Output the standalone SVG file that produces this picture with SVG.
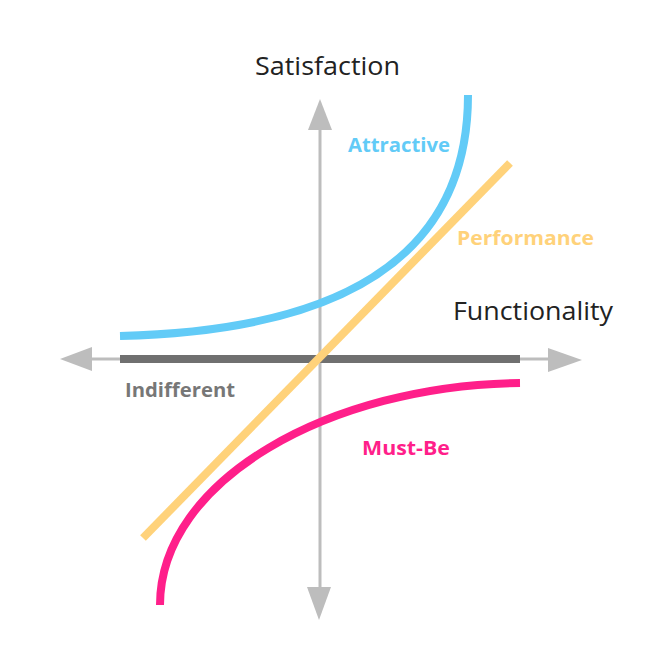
<svg xmlns="http://www.w3.org/2000/svg" width="655" height="655" viewBox="0 0 655 655">
<style>
.axis{stroke:#bdbdbd;stroke-width:3;fill:none}
.head{fill:#bdbdbd}
.curve{fill:none;stroke-width:8;stroke-linecap:butt}
.lbl{font-family:"Open Sans","Liberation Sans",sans-serif;font-weight:bold;font-size:19px}
.ax{font-family:"Open Sans","Liberation Sans",sans-serif;font-size:25px;fill:#222}
</style>
<rect width="655" height="655" fill="#fff"/>
<g id="connectors">
<line class="axis" x1="320" y1="128" x2="320" y2="590"/>
<polygon class="head" points="320,99 308,130 332,130"/>
<polygon class="head" points="319,620 307,587 331,587"/>
<line class="axis" x1="90" y1="359" x2="550" y2="359"/>
<polygon class="head" points="60,359 92,347 92,371"/>
<polygon class="head" points="582,360 548,348 548,372"/>
</g>
<g id="indifferent">
<line x1="120" y1="359" x2="520" y2="359" stroke="#707070" stroke-width="8"/>
<text class="lbl" x="125" y="397" fill="#777" textLength="110" lengthAdjust="spacingAndGlyphs">Indifferent</text>
</g>
<g id="attractive">
<path class="curve" stroke="#62CBF7" d="M120,336 C330,331 468,265 468,95"/>
<text class="lbl" x="348" y="152" fill="#62CBF7" textLength="102" lengthAdjust="spacingAndGlyphs">Attractive</text>
</g>
<g id="performance">
<line class="curve" stroke="#FFD27A" x1="143" y1="538" x2="510" y2="163"/>
<text class="lbl" x="457" y="245" fill="#FFD27A" textLength="137" lengthAdjust="spacingAndGlyphs">Performance</text>
</g>
<g id="mustbe">
<path class="curve" stroke="#FF1F8A" d="M160,605 C160,480 330,385 520,383"/>
<text class="lbl" x="362" y="455" fill="#FF1F8A" textLength="88" lengthAdjust="spacingAndGlyphs">Must-Be</text>
</g>
<g id="satisfaction">
<text class="ax" x="255" y="75" textLength="145" lengthAdjust="spacingAndGlyphs">Satisfaction</text>
</g>
<g id="functionality">
<text class="ax" x="453" y="320" textLength="160" lengthAdjust="spacingAndGlyphs">Functionality</text>
</g>
</svg>
